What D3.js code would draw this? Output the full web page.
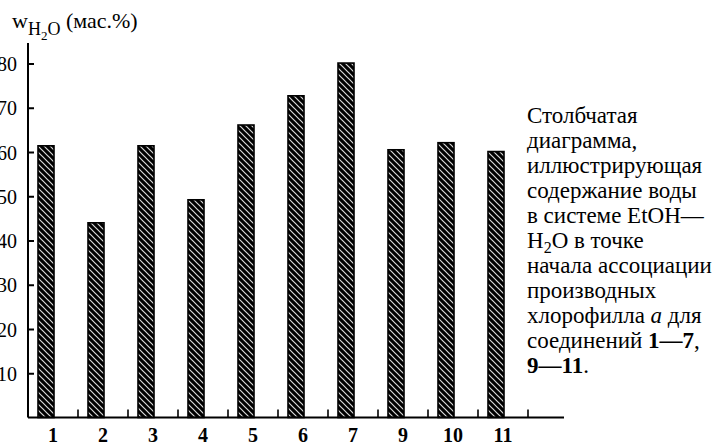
<!DOCTYPE html>
<html>
<head>
<meta charset="utf-8">
<script src="https://cdn.jsdelivr.net/npm/d3@7/dist/d3.min.js"></script>
<style>
  html, body { margin: 0; padding: 0; background: #fff; }
  svg { display: block; }
</style>
</head>
<body>
<svg id="chart" width="714" height="443"></svg>
<script>
// Compound labels and water content at the association onset (wt.%)
const compounds = ["1", "2", "3", "4", "5", "6", "7", "9", "10", "11"];
const waterContent = [61.4, 44.0, 61.4, 49.2, 66.1, 72.7, 80.1, 60.5, 62.1, 60.1];
const yTicks = [10, 20, 30, 40, 50, 60, 70, 80];

const SERIF = "Liberation Serif";

const svg = d3.select("#chart").attr("font-family", SERIF);

const x0 = 28, x1 = 528, yBase = 417.5;
const x = d3.scaleBand().domain(compounds).range([x0, x1]);
const y = d3.scaleLinear().domain([0, 80]).range([yBase, 63.5]);

// Diagonal hatch fill: black ground with light stripes
const defs = svg.append("defs");
const pat = defs.append("pattern")
  .attr("id", "hatch")
  .attr("patternUnits", "userSpaceOnUse")
  .attr("width", 6).attr("height", 6);
pat.append("rect").attr("width", 6).attr("height", 6).attr("fill", "#000");
pat.append("path")
  .attr("d", "M-1,-1 L7,7 M-1,5 L1,7 M5,-1 L7,1")
  .attr("stroke", "#d8d8d8").attr("stroke-width", 1.2);

// Bars
svg.append("g").selectAll("rect")
  .data(compounds.map((c, i) => ({ c, v: waterContent[i] })))
  .join("rect")
  .attr("x", d => x(d.c) + 10)
  .attr("width", 16)
  .attr("y", d => y(d.v))
  .attr("height", d => yBase - y(d.v))
  .attr("fill", "url(#hatch)")
  .attr("stroke", "#000")
  .attr("stroke-width", 1.6);

// Y axis: inward ticks, labels on the left
const yAxis = d3.axisRight(y).tickValues(yTicks).tickSize(6).tickFormat(d3.format("d"));
const gy = svg.append("g").attr("transform", `translate(${x0},0)`).call(yAxis)
  .attr("font-family", SERIF).attr("font-size", 20);
gy.select(".domain").remove();
gy.selectAll(".tick line").attr("stroke", "#000").attr("stroke-width", 2);
gy.selectAll(".tick text")
  .attr("x", -11).attr("dy", "0.35em")
  .attr("text-anchor", "end")
  .attr("fill", "#000");
svg.append("line")
  .attr("x1", x0).attr("x2", x0)
  .attr("y1", 43).attr("y2", yBase)
  .attr("stroke", "#000").attr("stroke-width", 2);

// X axis: baseline, separator ticks pointing up, bold labels
svg.append("line")
  .attr("x1", x0).attr("x2", 564)
  .attr("y1", yBase).attr("y2", yBase)
  .attr("stroke", "#000").attr("stroke-width", 2);
svg.append("g").selectAll("line")
  .data(compounds)
  .join("line")
  .attr("x1", d => x(d) + x.bandwidth())
  .attr("x2", d => x(d) + x.bandwidth())
  .attr("y1", yBase).attr("y2", yBase - 8)
  .attr("stroke", "#000").attr("stroke-width", 1.6);
svg.append("g").selectAll("text")
  .data(compounds)
  .join("text")
  .attr("x", d => x(d) + x.bandwidth() / 2)
  .attr("y", 442)
  .attr("text-anchor", "middle")
  .attr("font-family", SERIF)
  .attr("font-size", 20)
  .attr("font-weight", "bold")
  .text(d => d);

// Y axis title: w with subscript H2O, (мас.%)
const title = svg.append("text").attr("x", 12).attr("y", 28)
  .attr("font-family", SERIF).attr("font-size", 22);
title.append("tspan").text("w");
title.append("tspan").attr("dy", 7).attr("font-size", 18).text("H");
title.append("tspan").attr("dy", 5).attr("font-size", 13).text("2");
title.append("tspan").attr("dy", -5).attr("font-size", 18).text("O");
title.append("tspan").attr("dy", -7).text(" (мас.%)");

// Caption block on the right
const caption = [
  [{ t: "Столбчатая" }],
  [{ t: "диаграмма," }],
  [{ t: "иллюстрирующая" }],
  [{ t: "содержание воды" }],
  [{ t: "в системе EtOH—" }],
  [{ t: "H" }, { t: "2", sub: true }, { t: "O в точке", after: true }],
  [{ t: "начала ассоциации" }],
  [{ t: "производных" }],
  [{ t: "хлорофилла " }, { t: "a", it: true }, { t: " для" }],
  [{ t: "соединений " }, { t: "1—7", b: true }, { t: "," }],
  [{ t: "9—11", b: true }, { t: "." }]
];
const capG = svg.append("g");
caption.forEach((parts, i) => {
  const t = capG.append("text")
    .attr("x", 527).attr("y", 123 + i * 25)
    .attr("font-family", SERIF)
    .attr("font-size", 23);
  parts.forEach(p => {
    const s = t.append("tspan").text(p.t);
    if (p.b) s.attr("font-weight", "bold");
    if (p.it) s.attr("font-style", "italic");
    if (p.sub) s.attr("dy", 5).attr("font-size", 16);
    if (p.after) s.attr("dy", -5);
  });
});
</script>
</body>
</html>
